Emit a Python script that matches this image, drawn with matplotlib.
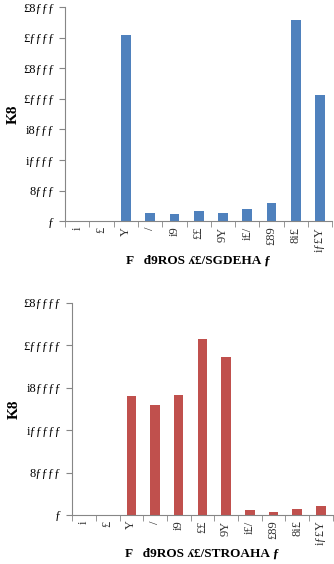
import numpy as np
import matplotlib.pyplot as plt

# categories (garbled labels as they appear in the picture)
cats = ["i", "£", "Y", "/", "i9", "££", "9Y", "i£/", "£89", "8i£", "iƒ£Y"]

# series values
top_vals = [0, 0, 30500, 1300, 1100, 1700, 1250, 1900, 3000, 32900, 20700]
bot_vals = [0, 0, 140300, 129700, 141200, 207500, 185600, 6400, 3200, 7100, 11100]

top_ticks = [0, 5000, 10000, 15000, 20000, 25000, 30000, 35000]
top_ticklabels = ["ƒ", "8ƒƒƒ", "iƒƒƒƒ", "i8ƒƒƒ", "£ƒƒƒƒ", "£8ƒƒƒ", "£ƒƒƒƒ", "£8ƒƒƒ"]
bot_ticks = [0, 50000, 100000, 150000, 200000, 250000]
bot_ticklabels = ["ƒ", "8ƒƒƒƒ", "iƒƒƒƒƒ", "i8ƒƒƒƒ", "£ƒƒƒƒƒ", "£8ƒƒƒƒ"]

ylab = "K8"
top_xlab = "F   đ9ROS ʎ£/SGDEHA ƒ"
bot_xlab = "F   đ9ROS ʎ£/STROAHA ƒ"

SERIF = ["Liberation Serif", "DejaVu Serif"]


def style_axis(ax, vals, color, ticks, ticklabels, xlab):
    x = np.arange(len(cats))
    ax.bar(x, vals, width=0.4, color=color, zorder=2)
    ax.set_xlim(-0.5, len(cats) - 0.5)
    ax.set_ylim(ticks[0], ticks[-1])
    ax.set_yticks(ticks)
    ax.set_yticklabels(ticklabels, family=SERIF, fontsize=9)
    ax.set_xticks(x)
    ax.set_xticklabels(cats, family=SERIF, fontsize=9, rotation=90, color="#333333")
    ax.tick_params(axis="x", length=0, pad=4)
    ax.set_xticks(np.arange(-0.5, len(cats)), minor=True)
    ax.tick_params(axis="x", which="minor", length=4, color="#868686", direction="out")
    ax.tick_params(axis="y", length=4, color="#868686", direction="out", pad=4)
    for s in ["top", "right"]:
        ax.spines[s].set_visible(False)
    for s in ["left", "bottom"]:
        ax.spines[s].set_color("#868686")
        ax.spines[s].set_linewidth(0.8)
    ax.set_ylabel(ylab, family=SERIF, fontsize=11, fontweight="bold", labelpad=2)
    ax.set_xlabel(xlab, family=SERIF, fontsize=9.5, fontweight="bold", labelpad=2)


fig = plt.figure(figsize=(3.34, 5.64), dpi=100, facecolor="white")
ax1 = fig.add_axes([0.195, 0.608, 0.80, 0.379])
ax2 = fig.add_axes([0.216, 0.087, 0.78, 0.376])

style_axis(ax1, top_vals, "#4F81BD", top_ticks, top_ticklabels, top_xlab)
style_axis(ax2, bot_vals, "#C0504D", bot_ticks, bot_ticklabels, bot_xlab)

fig.savefig("out.png", dpi=100)
